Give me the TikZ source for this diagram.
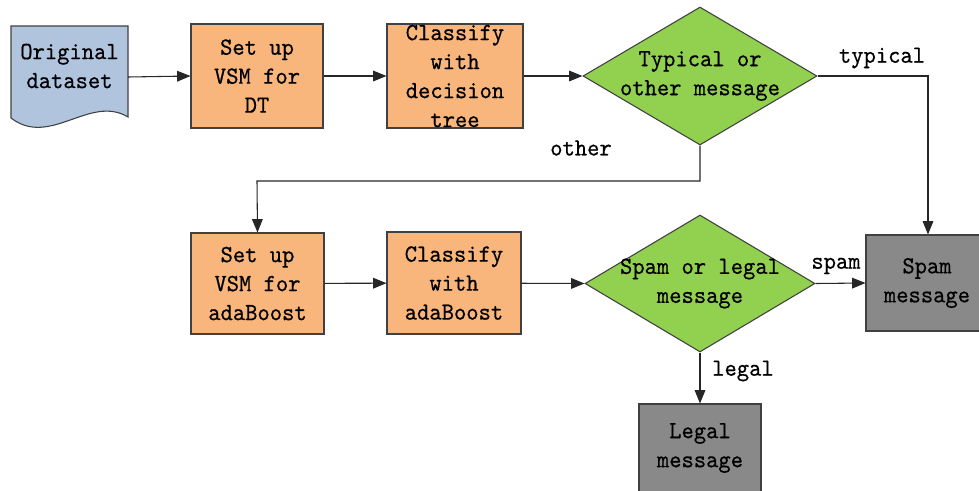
\documentclass[tikz,border=0pt]{standalone}
\usepackage{fontspec}
\newfontfamily\simfont[FakeStretch=0.95,FakeBold=0.5]{lmmono10-regular.otf}
\usetikzlibrary{arrows.meta,shapes.geometric}
\definecolor{boxorange}{RGB}{248,181,124}
\definecolor{docblue}{RGB}{176,196,222}
\definecolor{diagreen}{RGB}{146,208,80}
\definecolor{endgray}{RGB}{137,137,137}
\definecolor{edge}{RGB}{64,64,64}
\tikzset{
  txt/.style={font=\simfont\fontsize{18.5pt}{21.75pt}\selectfont, align=center, text=black, inner sep=0pt},
  procbox/.style={txt, draw=edge, line width=0.8pt, fill=boxorange},
  endbox/.style={txt, draw=edge, line width=0.8pt, fill=endgray},
  decis/.style={diamond, draw=edge, line width=0.8pt, fill=diagreen, inner sep=0pt},
  conn/.style={draw=black!85, line width=0.8pt, -{Triangle[length=10pt,width=8pt]}},
  lab/.style={txt}
}
\begin{document}
\begin{tikzpicture}[x=0.75pt,y=-0.75pt]
\useasboundingbox (0,0) rectangle (979,490);
% document shape
\draw[draw=edge, line width=0.8pt, fill=docblue]
  (11,26) -- (128,26) -- (128,117)
  .. controls (90,94) and (50,148) .. (11,118) -- cycle;
\node[txt, minimum width=87.75pt, minimum height=69pt] (orig) at (69.5,66) {Original\\dataset};
\coordinate (origR) at (128,77);

\node[procbox, minimum width=99pt, minimum height=78pt] (su1) at (257,76) {Set up\\VSM for\\DT};
\node[procbox, minimum width=102pt, minimum height=78pt] (cl1) at (455,76) {Classify\\with\\decision\\tree};
\node[decis, minimum width=175.5pt, minimum height=103.5pt] (d1) at (700,76) {};
\node[txt] (d1t) at (700,76) {Typical or\\other message};

\node[procbox, minimum width=99.75pt, minimum height=75.75pt] (su2) at (257.5,283.5) {Set up\\VSM for\\adaBoost};
\node[procbox, minimum width=100.5pt, minimum height=76.5pt] (cl2) at (454,283) {Classify\\with\\adaBoost};
\node[decis, minimum width=172.5pt, minimum height=102.75pt] (d2) at (700,283.5) {};
\node[txt] (d2t) at (700,283.5) {Spam or legal\\message};

\node[endbox, minimum width=91.5pt, minimum height=72pt] (spam) at (927,283) {Spam\\message};
\node[endbox, minimum width=91.5pt, minimum height=66pt] (legal) at (700,448) {Legal\\message};

\coordinate (c1) at (928,76);
\coordinate (c2) at (700,181);
\coordinate (c3) at (257,181);

\draw[conn] (origR) -- (su1.west);
\draw[conn] (su1) -- (cl1);
\draw[conn] (cl1) -- (d1.west);
\draw[conn] (d1.east) -- (c1) -- (spam.north -| c1);
\draw[conn] (d1.south) -- (c2) -- (c3) -- (su2.north);
\draw[conn] (su2) -- (cl2);
\draw[conn] (cl2) -- (d2.west);
\draw[conn] (d2.east) -- (spam.west);
\draw[conn] (d2.south) -- (legal.north);

\node[lab] (ltyp) at (882,58) {typical};
\node[lab] (loth) at (581,148) {other};
\node[lab] (lspam) at (836,266) {spam};
\node[lab] (lleg) at (743,371) {legal};
\end{tikzpicture}
\end{document}
